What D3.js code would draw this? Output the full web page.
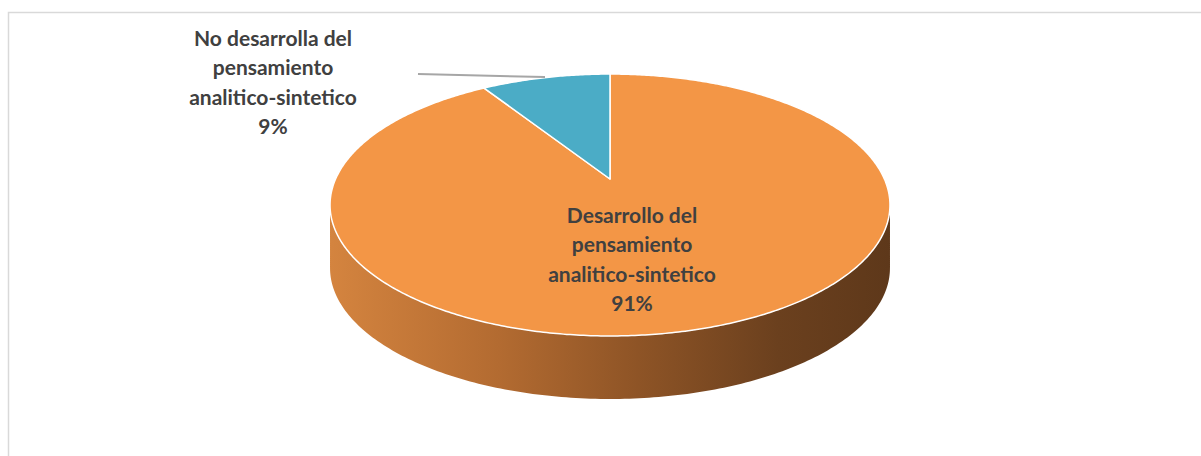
<!DOCTYPE html>
<html>
<head>
<meta charset="utf-8">
<script src="https://cdn.jsdelivr.net/npm/d3@7"></script>
<style>
  html, body { margin: 0; padding: 0; background: #fff; }
  svg { display: block; }
</style>
</head>
<body>
<svg id="chart" width="1201" height="456"></svg>
<script>
// data
const categories = ["Desarrollo del pensamiento analitico-sintetico", "No desarrolla del pensamiento analitico-sintetico"];
const values = [91, 9];
const percentLabels = ["91%", "9%"];
const labelLines = [
  ["Desarrollo del", "pensamiento", "analitico-sintetico"],
  ["No desarrolla del", "pensamiento", "analitico-sintetico"]
];
const colors = ["#F39646", "#4BACC6"];

const svg = d3.select("#chart");
const W = 1201, H = 456;

// chart frame
svg.append("rect")
  .attr("x", 8.5).attr("y", 12.5)
  .attr("width", W + 10).attr("height", H + 10)
  .attr("fill", "#fff")
  .attr("stroke", "#d9d9d9")
  .attr("stroke-width", 1.5);

// 3d-ish projection of the unit disc (tilted with a bit of perspective)
const apex = [610, 179];      // where the pie centre ends up
const k = -0.1985;            // perspective factor
const A = 274.4, B = 125.8;   // horizontal / vertical scale
const depth = 63;             // thickness of the pie

function project(angle, r) {
  const u = r * Math.sin(angle), v = -r * Math.cos(angle);
  const w = 1 + k * v;
  return [apex[0] + A * u / w, apex[1] + B * v / w];
}

// screen ellipse of the rim
const ex = apex[0], ey = apex[1] - B * k / (1 - k * k);
const erx = A / Math.sqrt(1 - k * k), ery = B / (1 - k * k);

const pie = d3.pie().sort(null).value(d => d);
const arcs = pie(values);

const line = d3.line();

// gradient for the side
const defs = svg.append("defs");
const grad = defs.append("linearGradient")
  .attr("id", "side")
  .attr("gradientUnits", "userSpaceOnUse")
  .attr("x1", ex - erx).attr("x2", ex + erx)
  .attr("y1", 0).attr("y2", 0);
grad.selectAll("stop")
  .data([[0, "#d4843f"], [0.3, "#b36b31"], [0.55, "#8e5426"], [0.8, "#6b401e"], [1, "#5e381a"]])
  .join("stop")
  .attr("offset", d => d[0])
  .attr("stop-color", d => d[1]);

// side wall (front half only)
const sidePts = [];
d3.range(0, 181).forEach(i => {
  const t = i * Math.PI / 180;
  sidePts.push([ex - erx * Math.cos(t), ey + ery * Math.sin(t)]);
});
d3.range(180, -1, -1).forEach(i => {
  const t = i * Math.PI / 180;
  sidePts.push([ex - erx * Math.cos(t), ey + depth + ery * Math.sin(t)]);
});
svg.append("path")
  .attr("d", line(sidePts) + "Z")
  .attr("fill", "url(#side)");

// top face slices
svg.selectAll("path.slice")
  .data(arcs)
  .join("path")
  .attr("class", "slice")
  .attr("d", d => {
    const n = Math.max(2, Math.ceil((d.endAngle - d.startAngle) / 0.01));
    const pts = [apex];
    d3.range(n + 1).forEach(i => {
      pts.push(project(d.startAngle + (d.endAngle - d.startAngle) * i / n, 1));
    });
    return line(pts) + "Z";
  })
  .attr("fill", (d, i) => colors[i])
  .attr("stroke", "#fff")
  .attr("stroke-width", 1.5)
  .attr("stroke-linejoin", "round");

// leader line for the small slice
svg.append("line")
  .attr("x1", 418).attr("y1", 74)
  .attr("x2", 545).attr("y2", 77)
  .attr("stroke", "#a6a6a6")
  .attr("stroke-width", 2);

// labels
const labelPos = [[632, 223], [273, 46]];
const lh = 29.3;
labelLines.forEach((lines, i) => {
  const t = svg.append("text")
    .attr("x", labelPos[i][0])
    .attr("y", labelPos[i][1])
    .attr("text-anchor", "middle")
    .attr("font-family", "Lato, 'Open Sans', sans-serif")
    .attr("font-weight", "bold")
    .attr("font-size", 21)
    .attr("fill", "#404040");
  lines.concat([percentLabels[i]]).forEach((s, j) => {
    t.append("tspan")
      .attr("x", labelPos[i][0])
      .attr("y", labelPos[i][1] + j * lh)
      .text(s);
  });
});
</script>
</body>
</html>
